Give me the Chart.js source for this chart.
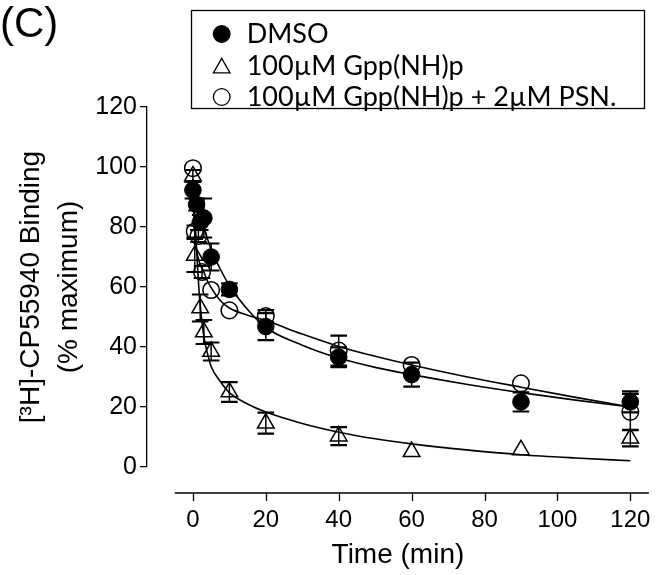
<!DOCTYPE html>
<html>
  <head>
    <title>Binding dissociation</title>
    <style>
      body {
        margin: 0;
        background: #fff;
      }
      canvas {
        display: block;
      }
    </style>
  </head>
  <body>
    <canvas id="binding-chart" width="660" height="575"></canvas>

    <script src="https://cdn.jsdelivr.net/npm/chart.js"></script>
    <script>
      // Data
      var seriesLabels = ["DMSO", "100µM Gpp(NH)p", "100µM Gpp(NH)p + 2µM PSN."]
      var xTicks = [0, 20, 40, 60, 80, 100, 120]
      var yTicks = [0, 20, 40, 60, 80, 100, 120]

      var dmsoTime = [0, 1, 2, 3, 5, 10, 20, 40, 60, 90, 120]
      var dmsoMean = [92.3, 87.5, 81.5, 83, 70, 59.2, 46.8, 36.6, 30.8, 21.7, 21.7]
      var dmsoSem = [2.8, 2, 2.5, 6.5, 4.5, 2, 4.5, 3.3, 4, 3.2, 3.5]

      var gppTime = [0, 0.5, 2, 3, 5, 10, 20, 40, 60, 90, 120]
      var gppMean = [97, 70.5, 53, 45, 38.5, 25, 14.6, 10.3, 5.1, 5.7, 9.6]
      var gppSem = [2, 5.5, 4.5, 4, 3, 3.3, 3.5, 3, 0, 0, 2.7]

      var psnTime = [0, 0.5, 1.5, 2.5, 5, 10, 20, 40, 60, 90, 120]
      var psnMean = [99.6, 78.5, 77, 65, 59, 52.2, 50.3, 38.8, 34, 27.9, 18.4]
      var psnSem = [0, 2, 2, 2, 0, 0, 2, 5, 0, 0, 6]

      // fitted curves
      var fitTime = [0, 0.5, 1, 1.5, 2, 3, 4, 5, 7.5, 10, 15, 20, 30, 40, 50, 60, 75, 90, 105, 120]
      var dmsoFit = [93, 90, 87.5, 85.3, 83.2, 79.5, 76, 72.5, 66, 60.5, 52.5, 46.5, 40.6, 36.3, 33.2, 30.8, 27.6, 24.8, 22.3, 20]
      var gppFit = [96, 84, 73, 62, 54, 43.5, 37.8, 33.5, 28.5, 24.8, 21, 18.3, 14.5, 11.6, 9.4, 7.7, 5.7, 4.1, 3, 2.1]
      var psnFit = [90, 78, 72, 69.5, 67.5, 65, 62, 59.8, 55.5, 53, 50.6, 48.8, 44.3, 40.2, 36.9, 34, 30.1, 26.6, 23.2, 20]

      var axisFont = "'Liberation Sans', Arial, sans-serif"
      var legendFont = "Lato, 'Open Sans', sans-serif"

      function toPoints(xs, ys) {
        return xs.map(function (x, i) {
          return { x: x, y: ys[i] }
        })
      }

      function fitDataset(ys) {
        return {
          data: toPoints(fitTime, ys),
          showLine: true,
          borderColor: "#000",
          borderWidth: 1.6,
          pointRadius: 0,
          cubicInterpolationMode: "monotone",
          order: 2,
        }
      }

      var datasets = [
        {
          label: seriesLabels[0],
          data: toPoints(dmsoTime, dmsoMean),
          errors: dmsoSem,
          pointStyle: "circle",
          pointRadius: 8.3,
          backgroundColor: "#000",
          borderColor: "#000",
          borderWidth: 1,
          order: 1,
        },
        {
          label: seriesLabels[1],
          data: toPoints(gppTime, gppMean),
          errors: gppSem,
          pointStyle: "triangle",
          pointRadius: 9.6,
          backgroundColor: "rgba(0,0,0,0)",
          borderColor: "#000",
          borderWidth: 1.5,
          order: 1,
        },
        {
          label: seriesLabels[2],
          data: toPoints(psnTime, psnMean),
          errors: psnSem,
          pointStyle: "circle",
          pointRadius: 8.3,
          backgroundColor: "rgba(0,0,0,0)",
          borderColor: "#000",
          borderWidth: 1.5,
          order: 1,
        },
        fitDataset(dmsoFit),
        fitDataset(gppFit),
        fitDataset(psnFit),
      ]

      // SEM bars, drawn under the symbols
      var errorBars = {
        id: "errorBars",
        beforeDatasetsDraw: function (chart) {
          var ctx = chart.ctx
          var y = chart.scales.y
          ctx.save()
          ctx.strokeStyle = "#000"
          chart.data.datasets.forEach(function (ds, i) {
            if (!ds.errors) return
            var meta = chart.getDatasetMeta(i)
            meta.data.forEach(function (pt, j) {
              var e = ds.errors[j]
              if (!e) return
              var v = ds.data[j].y
              var top = y.getPixelForValue(v + e)
              var bot = y.getPixelForValue(v - e)
              ctx.lineWidth = 1.5
              ctx.beginPath()
              ctx.moveTo(pt.x, top)
              ctx.lineTo(pt.x, bot)
              ctx.stroke()
              ctx.lineWidth = 2.2
              ctx.beginPath()
              ctx.moveTo(pt.x - 8.3, top)
              ctx.lineTo(pt.x + 8.3, top)
              ctx.moveTo(pt.x - 8.3, bot)
              ctx.lineTo(pt.x + 8.3, bot)
              ctx.stroke()
            })
          })
          ctx.restore()
        },
      }

      // offset x axis, legend box and panel letter
      var decorations = {
        id: "decorations",
        afterDraw: function (chart) {
          var ctx = chart.ctx
          var x = chart.scales.x
          var axisY = chart.chartArea.bottom + 26
          ctx.save()
          ctx.strokeStyle = "#000"
          ctx.lineWidth = 1.3
          ctx.beginPath()
          ctx.moveTo(x.getPixelForValue(-5), axisY)
          ctx.lineTo(chart.chartArea.right, axisY)
          xTicks.forEach(function (t) {
            var px = Math.round(x.getPixelForValue(t)) + 0.5
            ctx.moveTo(px, axisY)
            ctx.lineTo(px, axisY + 8)
          })
          ctx.stroke()

          // legend
          ctx.lineWidth = 1.3
          ctx.strokeRect(191.5, 10.5, 453, 98)
          ctx.font = "27px " + legendFont
          ctx.textBaseline = "middle"
          ctx.textAlign = "left"
          var rowY = [34, 66, 97]
          chart.data.datasets.slice(0, 3).forEach(function (ds, i) {
            var cy = rowY[i]
            ctx.fillStyle = ds.backgroundColor
            ctx.strokeStyle = "#000"
            Chart.helpers.drawPoint(
              ctx,
              {
                pointStyle: ds.pointStyle,
                radius: ds.pointRadius,
                borderWidth: ds.borderWidth,
              },
              221.7,
              cy + (ds.pointStyle === "triangle" ? 2 : 0)
            )
            ctx.fillStyle = "#000"
            ctx.fillText(ds.label, 246.7, cy)
          })

          ctx.font = "42px " + axisFont
          ctx.textBaseline = "alphabetic"
          ctx.fillText("(C)", 0, 37)
          ctx.restore()
        },
      }

      var config = {
        type: "scatter",
        data: { datasets: datasets },
        options: {
          responsive: false,
          animation: false,
          layout: { padding: { top: 107, right: 7.3, bottom: 0, left: 0 } },
          plugins: {
            legend: { display: false },
            tooltip: { enabled: false },
          },
          scales: {
            x: {
              type: "linear",
              min: -12.6,
              max: 125.1,
              afterBuildTicks: function (s) {
                s.ticks = xTicks.map(function (v) {
                  return { value: v }
                })
              },
              afterFit: function (s) {
                s.height = 108
              },
              // invisible grid; its tick length only pushes the labels down
              grid: {
                display: true,
                drawOnChartArea: false,
                color: "rgba(0,0,0,0)",
                tickLength: 39,
              },
              border: { display: false },
              ticks: {
                color: "#000",
                font: { family: axisFont, size: 24 },
                padding: 0,
                maxRotation: 0,
              },
              title: {
                display: true,
                text: "Time (min)",
                color: "#000",
                font: { family: axisFont, size: 28 },
                padding: { top: 0, bottom: 3 },
              },
            },
            y: {
              min: 0,
              max: 120,
              afterBuildTicks: function (s) {
                s.ticks = yTicks.map(function (v) {
                  return { value: v }
                })
              },
              afterFit: function (s) {
                s.width = 147
              },
              grid: {
                drawOnChartArea: false,
                tickLength: 7,
                color: "#000",
                lineWidth: 1.3,
              },
              border: { display: true, color: "#000", width: 1.3 },
              ticks: {
                color: "#000",
                font: { family: axisFont, size: 25 },
                padding: 3,
              },
              title: {
                display: true,
                text: ["[³H]-CP55940 Binding", "(% maximum)"],
                color: "#000",
                font: { family: axisFont, size: 28, lineHeight: 1.37 },
                padding: { top: 12, bottom: 0 },
              },
            },
          },
        },
        plugins: [errorBars, decorations],
      }

      var ctx = document.getElementById("binding-chart").getContext("2d")
      new Chart(ctx, config)
    </script>
  </body>
</html>
